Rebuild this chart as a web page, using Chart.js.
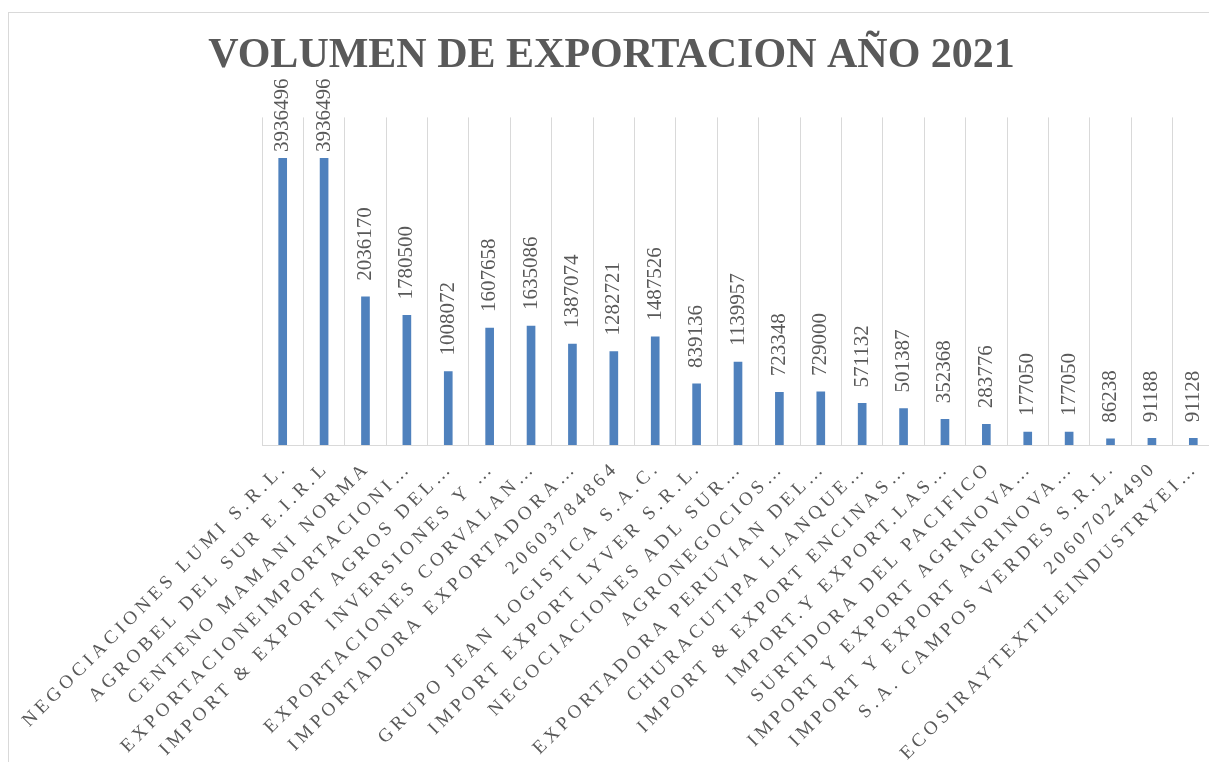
<!DOCTYPE html>
<html>
<head>
<meta charset="utf-8">
<script src="https://cdn.jsdelivr.net/npm/chart.js@4.4.1/dist/chart.umd.min.js"></script>
<style>
  html, body { margin: 0; padding: 0; background: #fff; overflow: hidden; }
  body { width: 1209px; height: 762px; position: relative; }
  #frame { position: absolute; left: 8px; top: 12px; width: 1240px; height: 780px; border: 1px solid #d9d9d9; }
  #wrap { position: absolute; left: 9px; top: 13px; width: 1205px; height: 749px; }
</style>
</head>
<body>
<div id="frame"></div>
<div id="wrap"><canvas id="exportChart"></canvas></div>
<script>
// Data
const empresas = [
  "NEGOCIACIONES LUMI S.R.L.",
  "AGROBEL DEL SUR E.I.R.L",
  "CENTENO MAMANI NORMA",
  "EXPORTACIONEIMPORTACIONI…",
  "IMPORT & EXPORT AGROS DEL…",
  "INVERSIONES Y …",
  "EXPORTACIONES CORVALAN…",
  "IMPORTADORA EXPORTADORA…",
  "20603784864",
  "GRUPO JEAN LOGISTICA S.A.C.",
  "IMPORT EXPORT LYVER S.R.L.",
  "NEGOCIACIONES ADL SUR…",
  "AGRONEGOCIOS…",
  "EXPORTADORA PERUVIAN DEL…",
  "CHURACUTIPA LLANQUE…",
  "IMPORT & EXPORT ENCINAS…",
  "IMPORT.Y EXPORT.LAS…",
  "SURTIDORA DEL PACIFICO",
  "IMPORT Y EXPORT AGRINOVA…",
  "IMPORT Y EXPORT AGRINOVA…",
  "S.A. CAMPOS VERDES S.R.L.",
  "20607024490",
  "ECOSIRAYTEXTILEINDUSTRYEI…"
];
const volumen = [
  3936496, 3936496, 2036170, 1780500, 1008072, 1607658, 1635086, 1387074,
  1282721, 1487526, 839136, 1139957, 723348, 729000, 571132, 501387,
  352368, 283776, 177050, 177050, 86238, 91188, 91128
];
const yMax = 4500000;

const serif = '"Liberation Serif", "Times New Roman", serif';
const textGray = "#595959";

// draws the value above each bar, rotated; kept inside the top of the chart
const valueLabels = {
  id: "valueLabels",
  afterDatasetsDraw(chart) {
    const ctx = chart.ctx;
    const meta = chart.getDatasetMeta(0);
    const minTop = chart.chartArea.top - 39;
    ctx.save();
    ctx.font = "21px " + serif;
    ctx.fillStyle = textGray;
    ctx.textAlign = "left";
    ctx.textBaseline = "middle";
    meta.data.forEach((bar, i) => {
      const txt = String(volumen[i]);
      const len = ctx.measureText(txt).width;
      let y = bar.y - 16;
      if (y - len < minTop) y = minTop + len;
      ctx.save();
      ctx.translate(bar.x, y);
      ctx.rotate(-Math.PI / 2);
      ctx.fillText(txt, 0, 0);
      ctx.restore();
    });
    ctx.restore();
  }
};

// draws the company names under the axis, 45 degrees, letter spaced
const categoryLabels = {
  id: "categoryLabels",
  afterDraw(chart) {
    const ctx = chart.ctx;
    const xScale = chart.scales.x;
    ctx.save();
    ctx.font = "19px " + serif;
    ctx.fillStyle = textGray;
    ctx.textAlign = "right";
    ctx.textBaseline = "middle";
    ctx.letterSpacing = "4.2px";
    empresas.forEach((name, i) => {
      const x = xScale.getPixelForTick(i);
      ctx.save();
      ctx.translate(x + 2, xScale.top + 20);
      ctx.rotate(-Math.PI / 4);
      ctx.fillText(name, 0, 0);
      ctx.restore();
    });
    ctx.restore();
  }
};

new Chart(document.getElementById("exportChart"), {
  type: "bar",
  data: {
    labels: empresas,
    datasets: [
      {
        data: volumen,
        backgroundColor: "#4F81BD",
        borderWidth: 0,
        barThickness: 8
      }
    ]
  },
  options: {
    responsive: true,
    maintainAspectRatio: false,
    animation: false,
    layout: { padding: 0 },
    plugins: {
      legend: { display: false },
      tooltip: { enabled: false },
      title: {
        display: true,
        text: "VOLUMEN DE EXPORTACION AÑO 2021",
        color: textGray,
        font: { family: serif, size: 42, weight: "bold", lineHeight: 1.2 },
        padding: { top: 18, bottom: 36 }
      }
    },
    scales: {
      x: {
        offset: true,
        grid: { offset: true, color: "#d9d9d9", lineWidth: 1, drawTicks: false },
        border: { color: "#d9d9d9" },
        ticks: { display: false },
        afterFit(scale) { scale.height = 317; }
      },
      y: {
        min: 0,
        max: yMax,
        grid: { display: false },
        border: { display: false },
        ticks: { display: false },
        afterFit(scale) { scale.width = 253; }
      }
    }
  },
  plugins: [valueLabels, categoryLabels]
});
</script>
</body>
</html>
